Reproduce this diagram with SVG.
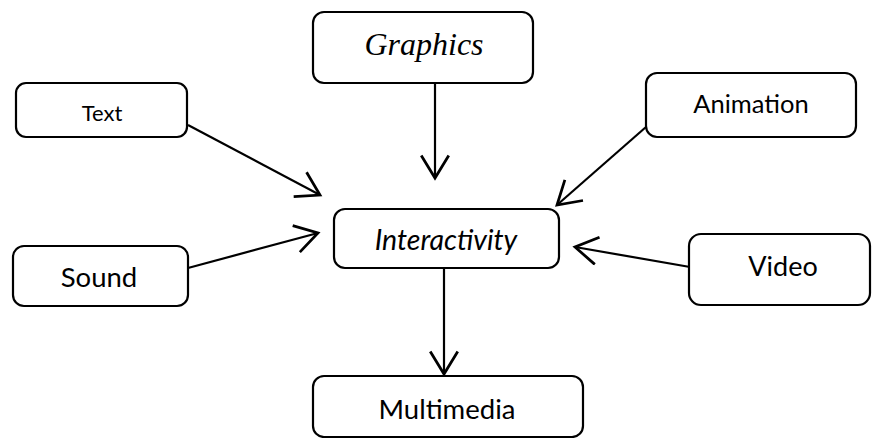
<svg xmlns="http://www.w3.org/2000/svg" width="872" height="438" viewBox="0 0 872 438">
<defs>
<style>
.box{fill:#fff;stroke:#000;stroke-width:2.2}
.lbl{font-family:Lato,"Liberation Sans",sans-serif;fill:#000;text-anchor:middle}
.ser{font-family:"Liberation Serif",serif;font-style:italic;fill:#000;text-anchor:middle}
.con{stroke:#000;stroke-width:2.2;fill:none}
</style>
<marker id="ah" markerUnits="userSpaceOnUse" markerWidth="30" markerHeight="30" viewBox="-20 -12 22 24" refX="0" refY="0" orient="auto">
<path d="M-18,-11 L0,0 L-18,11" fill="none" stroke="#000" stroke-width="2.2"/>
</marker>
</defs>
<rect width="872" height="438" fill="#fff"/>
<g id="connectors">
<line class="con" x1="435" y1="70" x2="435" y2="178" marker-end="url(#ah)"/>
<line class="con" x1="188" y1="125" x2="320" y2="195" marker-end="url(#ah)"/>
<line class="con" x1="646" y1="127" x2="557" y2="205" marker-end="url(#ah)"/>
<line class="con" x1="188" y1="268" x2="318" y2="233" marker-end="url(#ah)"/>
<line class="con" x1="690" y1="267" x2="575" y2="247" marker-end="url(#ah)"/>
<line class="con" x1="444" y1="268" x2="444" y2="374" marker-end="url(#ah)"/>
</g>
<g id="graphics">
<rect class="box" x="313" y="12" width="220" height="71" rx="11"/>
<text class="ser" x="424" y="55" font-size="32">Graphics</text>
</g>
<g id="text">
<rect class="box" x="16" y="83" width="171" height="54" rx="10"/>
<text class="lbl" x="102" y="121" font-size="22">Text</text>
</g>
<g id="animation">
<rect class="box" x="646" y="73" width="210" height="64" rx="11"/>
<text class="lbl" x="751" y="113" font-size="25.5">Animation</text>
</g>
<g id="sound">
<rect class="box" x="13" y="246" width="175" height="60" rx="11"/>
<text class="lbl" x="99" y="287" font-size="27.5">Sound</text>
</g>
<g id="interactivity">
<rect class="box" x="334" y="209" width="225" height="59" rx="11"/>
<text class="lbl" x="446" y="250" font-size="28.5" font-style="italic">Interactivity</text>
</g>
<g id="video">
<rect class="box" x="689" y="234" width="181" height="71" rx="12"/>
<text class="lbl" x="783" y="276" font-size="27">Video</text>
</g>
<g id="multimedia">
<rect class="box" x="313" y="376" width="270" height="61" rx="11"/>
<text class="lbl" x="447" y="419" font-size="27.5">Multimedia</text>
</g>
</svg>
